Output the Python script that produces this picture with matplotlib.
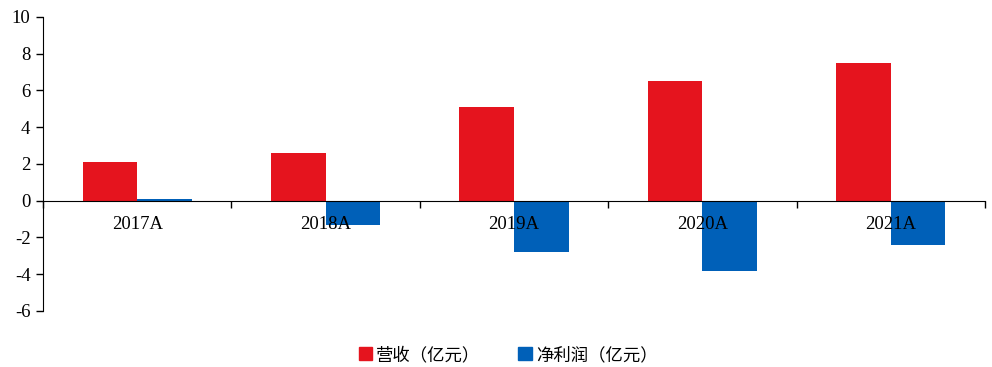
import matplotlib
matplotlib.use("Agg")
import matplotlib.pyplot as plt
import numpy as np
from matplotlib.patches import Patch

years = ["2017A", "2018A", "2019A", "2020A", "2021A"]
revenue = [2.1, 2.6, 5.1, 6.5, 7.5]
net_profit = [0.1, -1.3, -2.8, -3.8, -2.4]
y_ticks = [-6, -4, -2, 0, 2, 4, 6, 8, 10]

RED = "#e5141e"
BLUE = "#0060b8"

fig = plt.figure(figsize=(9.92, 3.67), dpi=100)
ax = fig.add_axes([0.0433, 0.1526, 0.9497, 0.8011])
ax.set_axisbelow(False)

x = np.arange(len(years))
w = 0.29
ax.bar(x - w / 2, revenue, width=w, color=RED, zorder=2)
ax.bar(x + w / 2, net_profit, width=w, color=BLUE, zorder=2)

ax.set_xlim(-0.5, len(years) - 0.5)
ax.set_ylim(-6, 10)
ax.set_yticks(y_ticks)
ax.set_yticklabels([str(v) for v in y_ticks], fontfamily="Liberation Serif", fontsize=13.5)
ax.tick_params(axis="y", direction="out", length=5, width=1, pad=4)

ax.spines["top"].set_visible(False)
ax.spines["right"].set_visible(False)
ax.spines["bottom"].set_position(("data", 0))
ax.spines["bottom"].set_zorder(3)

ax.set_xticks(np.arange(-0.5, len(years)), minor=True)
ax.set_xticks(x)
ax.set_xticklabels(years, fontfamily="Liberation Serif", fontsize=13.5)
ax.tick_params(axis="x", which="major", length=0, pad=11)
ax.tick_params(axis="x", which="minor", direction="out", length=5, width=1)

handles = [Patch(color=RED, label="营收（亿元）"), Patch(color=BLUE, label="净利润（亿元）")]
fig.legend(handles=handles, loc="center", bbox_to_anchor=(0.512, 0.033), ncol=2,
           frameon=False, handlelength=0.8, handleheight=0.8, handletextpad=0.2,
           columnspacing=2.2, prop={"family": ["Noto Sans CJK SC", "DejaVu Sans"], "size": 12.5})

fig.savefig("out.png", dpi=100)
